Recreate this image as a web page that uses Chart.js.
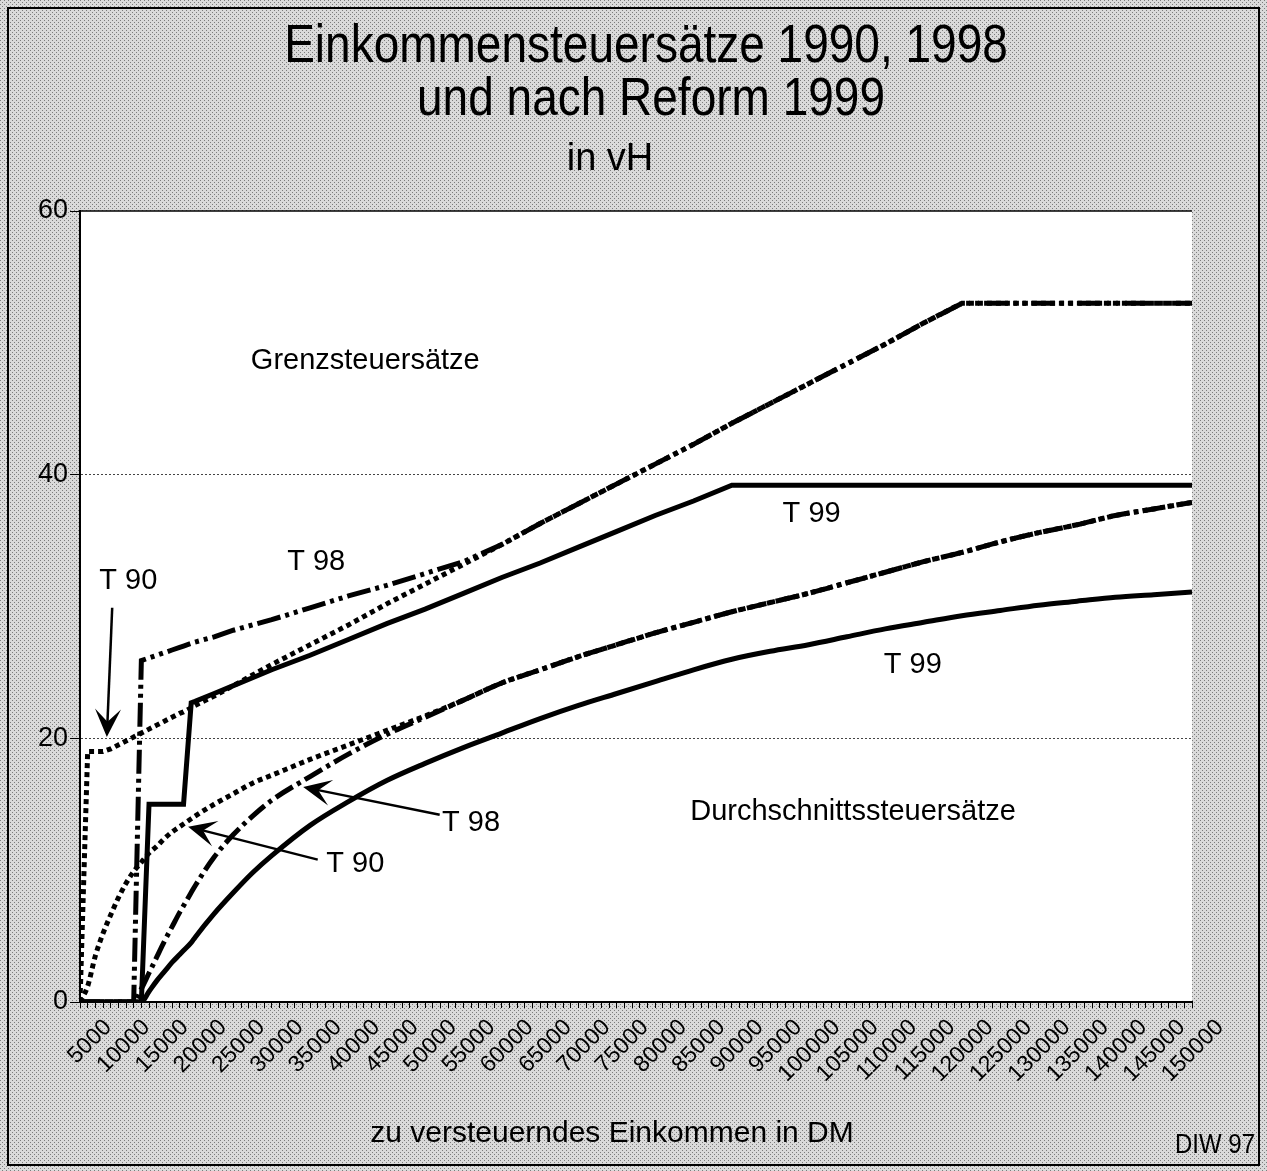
<!DOCTYPE html>
<html>
<head>
<meta charset="utf-8">
<script src="https://cdn.jsdelivr.net/npm/chart.js@4.4.0/dist/chart.umd.min.js"></script>
<style>
  html, body { margin: 0; padding: 0; background: #fff; }
  canvas { display: block; }
</style>
</head>
<body>
<canvas id="taxChart" width="1267" height="1171"></canvas>
<script>
// zu versteuerndes Einkommen (DM)
const income = [5000, 6000, 7000, 8000, 9000, 10000, 11000, 12000, 13000, 14000, 15000, 16000, 17000, 18000, 18500, 19500, 20000,
    22500, 25000, 27500, 30000, 35000, 40000, 45000, 50000, 55000, 60000, 65000, 70000, 75000, 80000, 85000, 90000,
    95000, 100000, 105000, 110000, 115000, 120000, 125000, 130000, 135000, 140000, 145000, 150000];

// Grenzsteuersätze in vH
const grenzT90 = [0, 19.0, 19.0, 19.0, 19.2, 19.5, 19.8, 20.1, 20.4, 20.7, 21.0, 21.3, 21.6, 21.9, 22.0, 22.3, 22.5,
    23.2, 24.0, 24.8, 25.6, 27.1, 28.6, 30.2, 31.7, 33.2, 34.7, 36.3, 37.8, 39.3, 40.8, 42.3, 43.9,
    45.4, 46.9, 48.4, 49.9, 51.5, 53.0, 53.0, 53.0, 53.0, 53.0, 53.0, 53.0];
const grenzT98 = [0, 0, 0, 0, 0, 0, 0, 0, 25.9, 26.1, 26.3, 26.5, 26.7, 26.9, 27.0, 27.2, 27.3,
    27.7, 28.2, 28.6, 29.0, 29.9, 30.8, 31.6, 32.5, 33.4, 34.7, 36.3, 37.8, 39.3, 40.8, 42.3, 43.9,
    45.4, 46.9, 48.4, 49.9, 51.5, 53.0, 53.0, 53.0, 53.0, 53.0, 53.0, 53.0];
const grenzT99 = [0, 0, 0, 0, 0, 0, 0, 0, 0, 15.0, 15.0, 15.0, 15.0, 15.0, 15.0, 22.7, 22.8,
    23.4, 24.0, 24.6, 25.2, 26.3, 27.5, 28.7, 29.8, 31.0, 32.2, 33.3, 34.5, 35.7, 36.9, 38.0, 39.2,
    39.2, 39.2, 39.2, 39.2, 39.2, 39.2, 39.2, 39.2, 39.2, 39.2, 39.2, 39.2];

// Durchschnittssteuersätze in vH
const durchT90 = [0, 1.2, 3.5, 5.2, 6.6, 7.9, 9.0, 9.9, 10.6, 11.3, 11.8, 12.4, 12.9, 13.3, 13.5, 13.9, 14.1,
    15.0, 15.8, 16.6, 17.2, 18.4, 19.5, 20.6, 21.7, 22.9, 24.2, 25.2, 26.2, 27.1, 28.0, 28.8, 29.6,
    30.3, 31.0, 31.8, 32.6, 33.4, 34.1, 34.9, 35.6, 36.2, 36.9, 37.4, 37.9];
const durchT98 = [0, 0, 0, 0, 0, 0, 0, 0, 1.0, 2.2, 3.4, 4.6, 5.7, 6.8, 7.3, 8.3, 8.8,
    11.0, 12.7, 14.1, 15.3, 17.1, 18.8, 20.3, 21.6, 22.9, 24.2, 25.2, 26.2, 27.1, 28.0, 28.8, 29.6,
    30.3, 31.0, 31.8, 32.6, 33.4, 34.1, 34.9, 35.6, 36.2, 36.9, 37.4, 37.9];
const durchT99 = [0, 0, 0, 0, 0, 0, 0, 0, 0, 0.8, 1.6, 2.3, 3.0, 3.6, 3.9, 4.5, 4.9,
    6.7, 8.3, 9.8, 11.1, 13.4, 15.2, 16.8, 18.1, 19.3, 20.4, 21.5, 22.5, 23.4, 24.3, 25.2, 26.0,
    26.6, 27.1, 27.7, 28.3, 28.8, 29.3, 29.7, 30.1, 30.4, 30.7, 30.9, 31.1];

// Beschriftungen im Diagramm (Position in Einkommen / vH)
const noteTexts = ["Grenzsteuersätze", "Durchschnittssteuersätze", "T 90", "T 98", "T 99", "T 99", "T 98", "T 90"];
const noteIncome = [42200, 105800, 11300, 35800, 100400, 113600, 56000, 40900];
const noteRate = [48.6, 14.4, 31.9, 33.4, 37.0, 25.6, 13.6, 10.5];
// Pfeile: von (Einkommen, vH) nach (Einkommen, vH)
const arrowFrom = [[9200, 29.9], [51900, 14.2], [36000, 10.8]];
const arrowTo = [[8500, 20.1], [34100, 16.3], [19100, 13.3]];

const FONT = '"Liberation Sans", Arial, Helvetica, sans-serif';
Chart.defaults.font.family = FONT;
Chart.defaults.color = "#000";

const dots = document.createElement("canvas");
dots.width = 4;
dots.height = 4;
(function () {
    const g = dots.getContext("2d");
    g.fillStyle = "#dadada";
    g.fillRect(0, 0, 4, 4);
    g.fillStyle = "#7c7c7c";
    g.fillRect(0, 0, 1, 1);
    g.fillRect(2, 2, 1, 1);
})();

function toPoints(values) {
    return income.map((x, i) => ({ x: x, y: values[i] }));
}

function writeText(ctx, text, x, y, size, align, stretch) {
    ctx.save();
    ctx.translate(x, y);
    ctx.scale(1, stretch || 1);
    ctx.font = size + "px " + FONT;
    ctx.textAlign = align;
    ctx.textBaseline = "alphabetic";
    ctx.fillStyle = "#000";
    ctx.fillText(text, 0, 0);
    ctx.restore();
}

function drawArrow(ctx, x1, y1, x2, y2) {
    const ang = Math.atan2(y2 - y1, x2 - x1);
    const len = 28, half = 13;
    ctx.save();
    ctx.strokeStyle = "#000";
    ctx.fillStyle = "#000";
    ctx.lineWidth = 2.5;
    ctx.beginPath();
    ctx.moveTo(x1, y1);
    ctx.lineTo(x2 - Math.cos(ang) * len * 0.5, y2 - Math.sin(ang) * len * 0.5);
    ctx.stroke();
    ctx.translate(x2, y2);
    ctx.rotate(ang);
    ctx.beginPath();
    ctx.moveTo(0, 0);
    ctx.lineTo(-len, -half);
    ctx.lineTo(-len * 0.55, 0);
    ctx.lineTo(-len, half);
    ctx.closePath();
    ctx.fill();
    ctx.restore();
}

const backdrop = {
    id: "backdrop",
    beforeDraw(chart) {
        const { ctx, chartArea: a } = chart;
        ctx.save();
        ctx.fillStyle = ctx.createPattern(dots, "repeat");
        ctx.fillRect(0, 0, chart.width, chart.height);
        ctx.fillStyle = "#fff";
        ctx.fillRect(a.left, a.top, a.right - a.left, a.bottom - a.top);
        ctx.restore();
    },
    afterDraw(chart) {
        const { ctx, chartArea: a } = chart;
        const xs = chart.scales.x, ys = chart.scales.y;

        ctx.save();
        ctx.strokeStyle = "#000";
        ctx.lineWidth = 1.5;
        ctx.beginPath();
        ctx.moveTo(a.left, a.top);
        ctx.lineTo(a.right, a.top);
        ctx.stroke();
        ctx.lineWidth = 2;
        ctx.strokeRect(8, 8, chart.width - 16, chart.height - 14);
        ctx.restore();

        writeText(ctx, "Einkommensteuersätze 1990, 1998", 646, 62, 46, "center", 1.17);
        writeText(ctx, "und nach Reform 1999", 651, 115, 46, "center", 1.17);
        writeText(ctx, "in vH", 610, 170, 38, "center", 1.0);
        writeText(ctx, "zu versteuerndes Einkommen in DM", 612, 1142, 30, "center", 1.0);
        writeText(ctx, "DIW 97", 1255, 1153, 24, "right", 1.15);

        ctx.save();
        ctx.font = "29px " + FONT;
        ctx.textAlign = "center";
        ctx.textBaseline = "middle";
        ctx.fillStyle = "#000";
        noteTexts.forEach((t, i) => {
            ctx.fillText(t, xs.getPixelForValue(noteIncome[i]), ys.getPixelForValue(noteRate[i]));
        });
        ctx.restore();

        arrowFrom.forEach((f, i) => {
            drawArrow(ctx,
                xs.getPixelForValue(f[0]), ys.getPixelForValue(f[1]),
                xs.getPixelForValue(arrowTo[i][0]), ys.getPixelForValue(arrowTo[i][1]));
        });
    }
};

const ctx = document.getElementById("taxChart").getContext("2d");

const chart = new Chart(ctx, {
    type: "line",
    data: {
        datasets: [
            {
                label: "Grenzsteuersatz T 99",
                data: toPoints(grenzT99),
                borderColor: "#000",
                borderWidth: 5,
                tension: 0
            },
            {
                label: "Grenzsteuersatz T 98",
                data: toPoints(grenzT98),
                borderColor: "#000",
                borderWidth: 5,
                borderDash: [24, 5, 4, 5, 4, 5],
                tension: 0
            },
            {
                label: "Grenzsteuersatz T 90",
                data: toPoints(grenzT90),
                borderColor: "#000",
                borderWidth: 5,
                borderDash: [5, 4],
                tension: 0
            },
            {
                label: "Durchschnittssteuersatz T 99",
                data: toPoints(durchT99),
                borderColor: "#000",
                borderWidth: 5,
                cubicInterpolationMode: "monotone"
            },
            {
                label: "Durchschnittssteuersatz T 98",
                data: toPoints(durchT98),
                borderColor: "#000",
                borderWidth: 5,
                borderDash: [20, 5, 4, 5],
                cubicInterpolationMode: "monotone"
            },
            {
                label: "Durchschnittssteuersatz T 90",
                data: toPoints(durchT90),
                borderColor: "#000",
                borderWidth: 5,
                borderDash: [5, 4],
                cubicInterpolationMode: "monotone"
            }
        ]
    },
    options: {
        responsive: false,
        animation: false,
        layout: { padding: { top: 211, right: 75, bottom: 0, left: 0 } },
        datasets: {
            line: {
                fill: false,
                pointRadius: 0,
                borderCapStyle: "butt",
                borderJoinStyle: "miter"
            }
        },
        plugins: {
            colors: { enabled: false },
            legend: { display: false },
            tooltip: { enabled: false }
        },
        scales: {
            x: {
                type: "linear",
                min: 5000,
                max: 150000,
                afterFit: (s) => { s.height = 169; },
                grid: {
                    drawOnChartArea: false,
                    drawTicks: true,
                    tickLength: 6,
                    tickColor: "#000",
                    color: "#000"
                },
                border: { color: "#000", width: 2 },
                ticks: {
                    stepSize: 1000,
                    autoSkip: false,
                    maxTicksLimit: 500,
                    minRotation: 45,
                    maxRotation: 45,
                    labelOffset: 28,
                    padding: 6,
                    color: "#000",
                    font: { size: 23 },
                    callback: (v) => (v % 5000 === 0 ? String(v) : "")
                }
            },
            y: {
                min: 0,
                max: 60,
                afterFit: (s) => { s.width = 80; },
                grid: {
                    color: (c) => (c.tick && (c.tick.value === 20 || c.tick.value === 40) ? "#444" : "rgba(0,0,0,0)"),
                    tickColor: "#000",
                    tickLength: 10,
                    lineWidth: 1
                },
                border: { color: "#000", width: 2, dash: [2, 2] },
                ticks: {
                    stepSize: 20,
                    padding: 2,
                    color: "#000",
                    font: { size: 27 }
                }
            }
        }
    },
    plugins: [backdrop]
});
</script>
</body>
</html>
